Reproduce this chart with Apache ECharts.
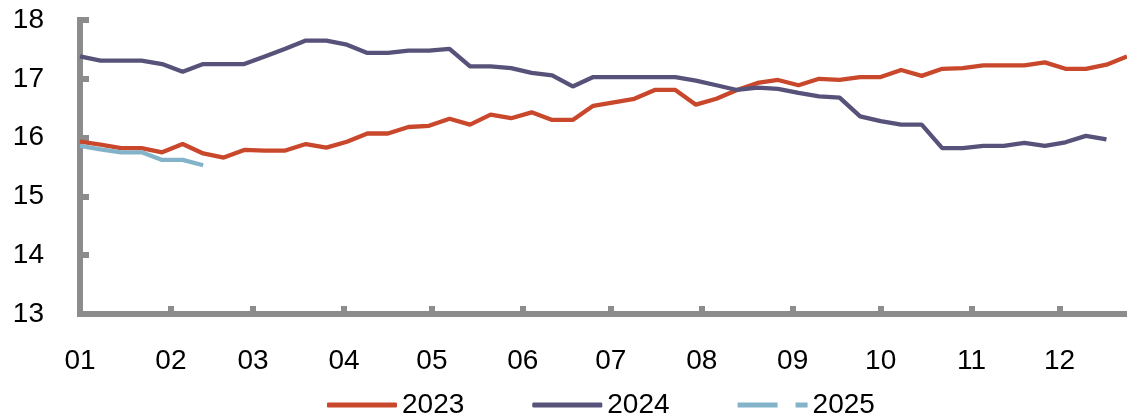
<!DOCTYPE html>
<html>
<head>
<meta charset="utf-8">
<script src="https://cdn.jsdelivr.net/npm/echarts@6/dist/echarts.min.js"></script>
<style>
  html, body { margin: 0; padding: 0; background: #ffffff; }
  #chart { width: 1127px; height: 418px; }
</style>
</head>
<body>
<div id="chart"></div>
<script>
// Month tick labels and the day-of-year each month starts on
const monthLabels = ['01', '02', '03', '04', '05', '06', '07', '08', '09', '10', '11', '12'];
const monthStartDays = [0, 31, 59, 90, 120, 151, 181, 212, 243, 273, 304, 334];

// Weekly observations, one value per week starting 1 January
const values2023 = [
  15.93, 15.88, 15.82, 15.82, 15.75, 15.89, 15.73, 15.66, 15.79, 15.78,
  15.78, 15.89, 15.83, 15.93, 16.07, 16.07, 16.18, 16.20, 16.32, 16.22,
  16.39, 16.33, 16.43, 16.30, 16.30, 16.54, 16.60, 16.66, 16.81, 16.81,
  16.56, 16.66, 16.81, 16.93, 16.98, 16.89, 17.00, 16.98, 17.03, 17.03,
  17.15, 17.05, 17.17, 17.18, 17.23, 17.23, 17.23, 17.28, 17.17, 17.17,
  17.24, 17.38
];
const values2024 = [
  17.38, 17.31, 17.31, 17.31, 17.25, 17.12, 17.25, 17.25, 17.25, 17.38,
  17.51, 17.65, 17.65, 17.58, 17.44, 17.44, 17.48, 17.48, 17.51, 17.21,
  17.21, 17.18, 17.10, 17.06, 16.87, 17.03, 17.03, 17.03, 17.03, 17.03,
  16.97, 16.89, 16.81, 16.85, 16.83, 16.76, 16.70, 16.68, 16.36, 16.28,
  16.22, 16.22, 15.82, 15.82, 15.86, 15.86, 15.91, 15.86, 15.92, 16.03,
  15.97
];
const values2025 = [15.86, 15.80, 15.75, 15.75, 15.62, 15.62, 15.53];

const seriesNames = ['2023', '2024', '2025'];
const seriesColors = ['#C9472B', '#575279', '#82B3C9'];

const DAYS_PER_WEEK = 7;
const toPoints = vals => vals.map((v, i) => [i * DAYS_PER_WEEK, v]);

const FONT = '"Liberation Sans", Arial, sans-serif';
const AXIS_GREY = '#8C8C8C';

const chart = echarts.init(document.getElementById('chart'), null, { renderer: 'canvas' });

chart.setOption({
  animation: false,
  backgroundColor: '#ffffff',
  grid: {
    left: 80, right: 0, top: 20, bottom: 104,
    containLabel: false,
    outerBoundsMode: 'none'
  },
  legend: {
    left: 327,
    top: 391,
    padding: 0,
    itemWidth: 70,
    itemHeight: 5,
    itemGap: 68,
    itemStyle: { borderWidth: 0 },
    textStyle: { fontSize: 28, color: '#000000', fontFamily: FONT },
    data: [
      { name: seriesNames[0], icon: 'roundRect' },
      { name: seriesNames[1], icon: 'roundRect' },
      { name: seriesNames[2], icon: 'path://M0,0H40V5H0Z M58,0H70V5H58Z' }
    ]
  },
  xAxis: {
    type: 'value',
    min: 0,
    max: 357,
    splitLine: { show: false },
    axisLine: { show: true, lineStyle: { color: AXIS_GREY, width: 6, cap: 'square' } },
    axisTick: {
      show: true,
      inside: true,
      length: 8,
      customValues: monthStartDays,
      lineStyle: { color: AXIS_GREY, width: 6 }
    },
    axisLabel: {
      customValues: monthStartDays,
      margin: 33,
      fontSize: 28,
      color: '#000000',
      fontFamily: FONT,
      formatter: v => monthLabels[monthStartDays.indexOf(v)] || ''
    }
  },
  yAxis: {
    type: 'value',
    min: 13,
    max: 18,
    interval: 1,
    splitLine: { show: false },
    axisLine: { show: true, lineStyle: { color: AXIS_GREY, width: 6, cap: 'square' } },
    axisTick: {
      show: true,
      inside: true,
      length: 9,
      lineStyle: { color: AXIS_GREY, width: 6 }
    },
    axisLabel: {
      margin: 36,
      fontSize: 28,
      color: '#000000',
      fontFamily: FONT
    }
  },
  series: [
    { name: seriesNames[0], data: toPoints(values2023) },
    { name: seriesNames[1], data: toPoints(values2024) },
    { name: seriesNames[2], data: toPoints(values2025) }
  ].map((s, i) => ({
    type: 'line',
    name: s.name,
    data: s.data,
    showSymbol: false,
    symbol: 'none',
    color: seriesColors[i],
    lineStyle: { color: seriesColors[i], width: 4.3 },
    emphasis: { disabled: true }
  }))
});
</script>
</body>
</html>
